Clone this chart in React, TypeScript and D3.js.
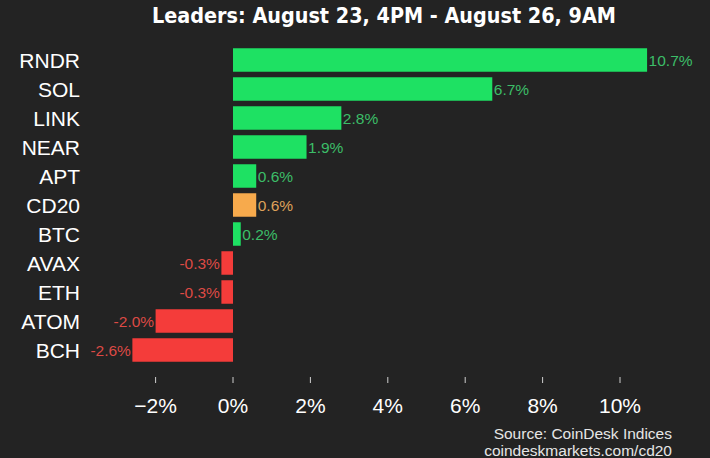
import React from "react";
import * as d3 from "d3";

const categories = ["RNDR", "SOL", "LINK", "NEAR", "APT", "CD20", "BTC", "AVAX", "ETH", "ATOM", "BCH"];
const values = [10.7, 6.7, 2.8, 1.9, 0.6, 0.6, 0.2, -0.3, -0.3, -2.0, -2.6];
const tickValues = [-2, 0, 2, 4, 6, 8, 10];
const titleText = "Leaders: August 23, 4PM - August 26, 9AM";
const sourceLines = ["Source: CoinDesk Indices", "coindeskmarkets.com/cd20"];
const indexName = "CD20";

const W = 710;
const H = 458;
const BG = "#232323";
const GREEN = "#1ee163";
const GREEN_TXT = "#3cbd68";
const RED = "#f43c3a";
const RED_TXT = "#dd4a45";
const ORANGE = "#f7aa4c";
const ORANGE_TXT = "#dea15a";
const FONT = "'Liberation Sans', Arial, Helvetica, sans-serif";

export default function App() {
  const x = d3.scaleLinear().domain([-3, 11]).range([233 - 3 * 38.7, 233 + 11 * 38.7]);
  const y = d3
    .scaleBand<string>()
    .domain(categories)
    .range([45.5, 364.5])
    .paddingInner(0.19)
    .paddingOuter(0.095);
  const bw = y.bandwidth();
  const fmt = (v: number) => (v < 0 ? "-" : "") + Math.abs(v).toFixed(1) + "%";
  const tickFmt = (v: number) => (v < 0 ? "\u2212" : "") + Math.abs(v) + "%";

  return (
    <svg
      width={W}
      height={H}
      style={{ position: "fixed", left: 0, top: 0, display: "block" }}
      fontFamily={FONT}
    >
      <rect x={0} y={0} width={W} height={H} fill={BG} />
      <text
        x={384}
        y={23}
        textAnchor="middle"
        fill="#ffffff"
        fontWeight="bold"
        fontSize={22}
        fontFamily="'Liberation Sans Narrow', 'DejaVu Sans Condensed', Arial, sans-serif"
        textLength={464}
        lengthAdjust="spacingAndGlyphs"
      >
        {titleText}
      </text>
      {categories.map((c, i) => {
        const v = values[i];
        const y0 = y(c) as number;
        const cy = y0 + bw / 2;
        const isIdx = c === indexName;
        const fill = isIdx ? ORANGE : v >= 0 ? GREEN : RED;
        const tfill = isIdx ? ORANGE_TXT : v >= 0 ? GREEN_TXT : RED_TXT;
        const xa = x(Math.min(0, v));
        const xb = x(Math.max(0, v));
        return (
          <g key={c}>
            <text x={80} y={cy + 7.5} textAnchor="end" fill="#ffffff" fontSize={21}>
              {c}
            </text>
            <rect x={xa} y={y0} width={xb - xa} height={bw} fill={fill} />
            <text
              x={v >= 0 ? xb + 1.5 : xa - 1.5}
              y={cy + 5.5}
              textAnchor={v >= 0 ? "start" : "end"}
              fill={tfill}
              fontSize={15.5}
            >
              {fmt(v)}
            </text>
          </g>
        );
      })}
      {tickValues.map((t) => (
        <g key={t}>
          <line x1={x(t)} x2={x(t)} y1={377} y2={383} stroke="#cfcfcf" strokeWidth={1} />
          <text x={x(t)} y={413} textAnchor="middle" fill="#ffffff" fontSize={21}>
            {tickFmt(t)}
          </text>
        </g>
      ))}
      {sourceLines.map((s, i) => (
        <text key={s} x={672} y={439 + i * 17} textAnchor="end" fill="#e6e6e6" fontSize={15.5}>
          {s}
        </text>
      ))}
    </svg>
  );
}
